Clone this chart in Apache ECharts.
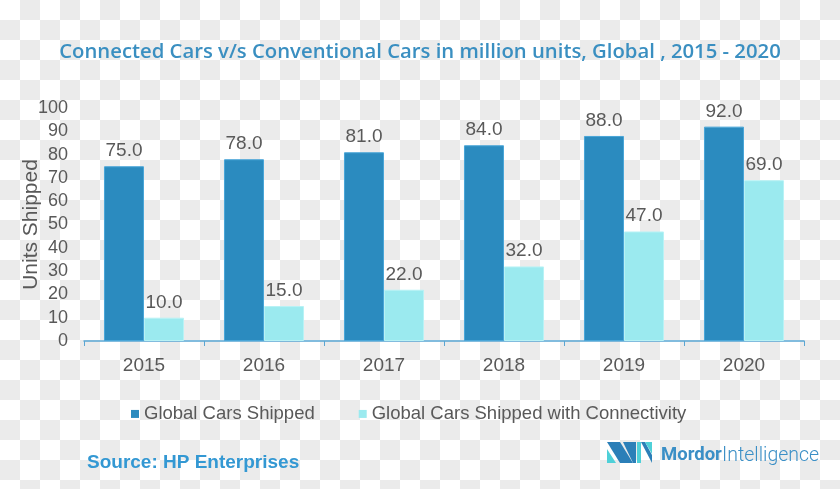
<!DOCTYPE html>
<html>

<head>
    <title>Connected Cars v/s Conventional Cars</title>
    <script src="https://cdn.jsdelivr.net/npm/echarts@6.0.0/dist/echarts.min.js"></script>
    <style>
        html, body {
            margin: 0;
            padding: 0;
        }
        body {
            background-color: #ffffff;
            background-image: conic-gradient(#ebebeb 0 25%, #ffffff 0 50%, #ebebeb 0 75%, #ffffff 0);
            background-size: 40px 40px;
        }
    </style>
</head>

<body>
    <div id="chart" style="width: 840px; height: 489px;"></div>

    <script>
        // values (million units)
        const years = ['2015', '2016', '2017', '2018', '2019', '2020'];
        const globalShipped = [75, 78, 81, 84, 88, 92];
        const connectedShipped = [10, 15, 22, 32, 47, 69];
        const seriesNames = ['Global Cars Shipped', 'Global Cars Shipped with Connectivity'];

        const darkBlue = '#2b8bbf';
        const lightCyan = '#9beaef';
        const gray = '#595959';

        const chart = echarts.init(document.getElementById('chart'));

        const labelStyle = {
            show: true,
            position: 'top',
            distance: -1,
            color: gray,
            fontFamily: 'Liberation Sans, Arial',
            fontSize: 19,
            formatter: p => p.value.toFixed(1)
        };

        const yLabelStyle = {
            color: gray,
            fontFamily: 'Liberation Sans, Arial',
            fontSize: 18,
            margin: 16
        };

        const gridBox = { left: 84, right: 36, top: 108, bottom: 148, containLabel: false, outerBoundsMode: 'none' };

        const option = {
            backgroundColor: 'transparent',
            animation: false,
            title: {
                text: 'Connected Cars v/s Conventional Cars in million units, Global , 2015 - 2020',
                left: 'center',
                top: 30,
                textStyle: {
                    color: '#3a8fc1',
                    fontFamily: 'Open Sans',
                    fontWeight: 600,
                    fontSize: 20.3
                }
            },
            legend: {
                data: seriesNames,
                left: 126,
                top: 393,
                icon: 'rect',
                itemWidth: 8,
                itemHeight: 8,
                itemGap: 44,
                itemStyle: { borderWidth: 0 },
                textStyle: {
                    color: gray,
                    fontFamily: 'Liberation Sans, Arial',
                    fontSize: 18.5
                }
            },
            // second grid on top of the first only carries the 0 / 100 labels
            // (v6 hides the 10 / 90 labels next to them otherwise)
            grid: [gridBox, Object.assign({}, gridBox)],
            xAxis: [
                {
                    type: 'category',
                    data: years,
                    gridIndex: 0,
                    axisLine: { lineStyle: { color: '#5aa6d3', width: 1.5 } },
                    axisTick: { show: true, alignWithLabel: false, length: 5, lineStyle: { color: '#5aa6d3' } },
                    axisLabel: {
                        color: gray,
                        fontFamily: 'Liberation Sans, Arial',
                        fontSize: 19,
                        margin: 8
                    }
                },
                {
                    type: 'category',
                    data: years,
                    gridIndex: 1,
                    show: false
                }
            ],
            yAxis: [
                {
                    type: 'value',
                    gridIndex: 0,
                    min: 0,
                    max: 100,
                    interval: 10,
                    name: 'Units Shipped',
                    nameLocation: 'middle',
                    nameGap: 35,
                    nameMoveOverlap: false,
                    nameTextStyle: {
                        color: gray,
                        fontFamily: 'Liberation Sans, Arial',
                        fontSize: 21
                    },
                    axisLine: { show: false },
                    axisTick: { show: false },
                    splitLine: { show: false },
                    axisLabel: Object.assign({ showMinLabel: false, showMaxLabel: false }, yLabelStyle)
                },
                {
                    type: 'value',
                    gridIndex: 1,
                    min: 0,
                    max: 100,
                    interval: 100,
                    axisLine: { show: false },
                    axisTick: { show: false },
                    splitLine: { show: false },
                    axisLabel: Object.assign({ showMinLabel: true, showMaxLabel: true }, yLabelStyle)
                }
            ],
            series: [
                {
                    name: seriesNames[0],
                    type: 'bar',
                    data: globalShipped,
                    barGap: '0%',
                    barCategoryGap: '33.3%',
                    itemStyle: { color: darkBlue, borderColor: '#4aa6d8', borderWidth: 1 },
                    label: labelStyle
                },
                {
                    name: seriesNames[1],
                    type: 'bar',
                    data: connectedShipped,
                    itemStyle: { color: lightCyan, borderColor: '#b8f2f5', borderWidth: 1 },
                    label: labelStyle
                }
            ],
            graphic: [
                {
                    type: 'text',
                    left: 87,
                    top: 446,
                    style: {
                        text: 'Source: HP Enterprises',
                        fill: '#3398d3',
                        font: 'bold 19px Liberation Sans, Arial'
                    }
                },
                // Mordor Intelligence logo mark
                { type: 'polygon', shape: { points: [[607, 449], [607, 463], [616, 463]] }, style: { fill: '#4fd0d8' } },
                { type: 'polygon', shape: { points: [[607, 442], [620, 442], [633, 463], [620, 463]] }, style: { fill: '#2b7fb8' } },
                { type: 'polygon', shape: { points: [[623, 442], [636, 442], [636, 463], [633, 463]] }, style: { fill: '#2b7fb8' } },
                { type: 'polygon', shape: { points: [[637, 442], [641, 442], [641, 463], [637, 463]] }, style: { fill: '#4fd0d8' } },
                { type: 'polygon', shape: { points: [[641, 442], [645, 442], [652, 455], [652, 463]] }, style: { fill: '#2b7fb8' } },
                { type: 'polygon', shape: { points: [[645, 442], [652, 442], [652, 454]] }, style: { fill: '#4fd0d8' } },
                {
                    type: 'text',
                    left: 661,
                    top: 441,
                    style: {
                        text: 'Mordor',
                        fill: '#3b8fc6',
                        font: 'bold 18.5px Roboto'
                    }
                },
                {
                    type: 'text',
                    left: 722,
                    top: 441,
                    style: {
                        text: 'Intelligence',
                        fill: '#3b8fc6',
                        font: '300 19.5px Roboto'
                    }
                }
            ]
        };

        chart.setOption(option);
    </script>
</body>

</html>
